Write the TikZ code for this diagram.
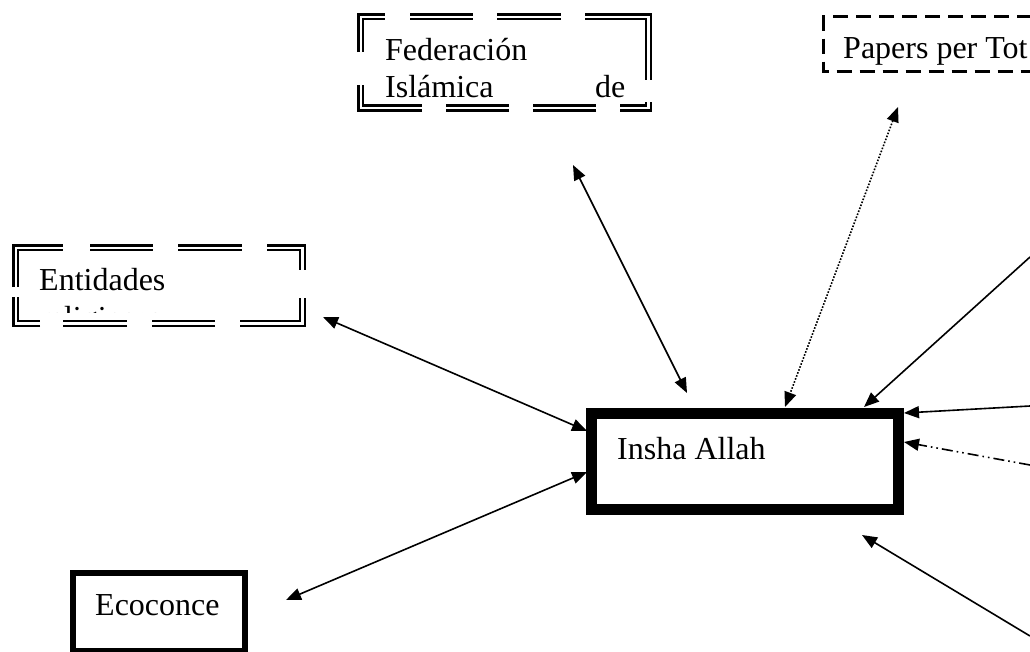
\documentclass[tikz,border=0pt]{standalone}
\usepackage{fontspec}
\setmainfont{Liberation Serif}
\usetikzlibrary{arrows.meta}
\begin{document}
\begin{tikzpicture}[x=1pt,y=-1pt,
  lbl/.style={anchor=base west, inner sep=0pt, font=\fontsize{32}{37}\selectfont},
  boxarea/.style={rectangle, inner sep=0pt, outer sep=0pt, anchor=north west},
  dblpiece/.style={draw, double, double distance=2.5pt, line width=2.4pt, line join=miter, line cap=butt},
  thinborder/.style={draw, line width=3pt, dash pattern=on 15pt off 8pt},
  oneway/.style={line width=1.6pt, -{Triangle[length=15pt,width=12pt]}},
  twoway/.style={line width=1.6pt, {Triangle[length=15pt,width=12pt]}-{Triangle[length=15pt,width=12pt]}}]
\useasboundingbox (0,0) rectangle (1030,651);
\fill[white] (0,0) rectangle (1030,651);

% ---- Federación box (double dashed) ----
\node[boxarea, minimum width=287.5pt, minimum height=91.25pt] (fed) at (360.75,16.75) {};
\draw[dblpiece] (360.75,52) -- (360.75,16.75) -- (385,16.75);
\draw[dblpiece] (410,16.75) -- (473,16.75);
\draw[dblpiece] (497,16.75) -- (561,16.75);
\draw[dblpiece] (585,16.75) -- (648.25,16.75) -- (648.25,80);
\draw[dblpiece] (648.25,102) -- (648.25,108) -- (620,108);
\draw[dblpiece] (596,108) -- (533,108);
\draw[dblpiece] (509,108) -- (446,108);
\draw[dblpiece] (422,108) -- (360.75,108) -- (360.75,85);
\node[lbl] (fedA) at (385,60) {Federación};
\node[lbl] (fedB) at (385,97) {Islámica};
\node[lbl] (fedC) at (595,97) {de};

% ---- Papers per Tot box (dashed) ----
\node[boxarea, minimum width=300pt, minimum height=55pt] (pap) at (823.5,16.5) {};
\draw[thinborder] (pap.north east) -- (pap.north west) -- (pap.south west) -- (pap.south east);
\node[lbl] (papA) at (843,58) {Papers per Tot};

% ---- Entidades box (double dashed) ----
\node[boxarea, minimum width=286.5pt, minimum height=75.5pt] (ent) at (15.75,247.75) {};
\draw[dblpiece] (15.75,287) -- (15.75,247.75) -- (63,247.75);
\draw[dblpiece] (90,247.75) -- (153,247.75);
\draw[dblpiece] (178,247.75) -- (242,247.75);
\draw[dblpiece] (267,247.75) -- (302.25,247.75) -- (302.25,270);
\draw[dblpiece] (302.25,298) -- (302.25,323.25) -- (240,323.25);
\draw[dblpiece] (215,323.25) -- (152,323.25);
\draw[dblpiece] (127,323.25) -- (63,323.25);
\draw[dblpiece] (40,323.25) -- (15.75,323.25) -- (15.75,297);
\node[lbl] (entA) at (39,290) {Entidades};
\begin{scope}
  \clip (30,295) rectangle (290,312);
  \node[lbl] (entB) at (39,328) {religiosas};
\end{scope}

% ---- Insha Allah box ----
\node[boxarea, draw, line width=11pt, minimum width=307pt, minimum height=95.5pt] (ins) at (591.5,413.5) {};
\node[lbl] (insA) at (617,459) {Insha Allah};

% ---- Ecoconce box ----
\node[boxarea, draw, line width=6pt, minimum width=172pt, minimum height=78pt] (eco) at (73,573) {};
\node[lbl] (ecoA) at (95,615) {Ecoconce};

% ---- connector end points ----
\coordinate (f1) at (573,165);  \coordinate (f2) at (687,393);
\coordinate (p1) at (898,107);  \coordinate (p2) at (785,407);
\coordinate (e1) at (323,317);  \coordinate (e2) at (587,431);
\coordinate (c1) at (286,600);  \coordinate (c2) at (587,472);
\coordinate (r1) at (1030,257); \coordinate (r1t) at (864,407);
\coordinate (r2) at (1030,406); \coordinate (r2t) at (904,413);
\coordinate (r3) at (1030,465); \coordinate (r3t) at (904,442);
\coordinate (r4) at (1030,636); \coordinate (r4t) at (862,535);

% ---- connectors ----
\draw[twoway] (f1) -- (f2);
\draw[twoway, dash pattern=on 1.6pt off 1.6pt] (p1) -- (p2);
\draw[twoway] (e1) -- (e2);
\draw[twoway] (c1) -- (c2);
\draw[oneway] (r1) -- (r1t);
\draw[oneway] (r2) -- (r2t);
\draw[oneway, dash pattern=on 11pt off 4pt on 1.6pt off 4pt on 1.6pt off 4pt] (r3) -- (r3t);
\draw[oneway] (r4) -- (r4t);
\end{tikzpicture}
\end{document}
